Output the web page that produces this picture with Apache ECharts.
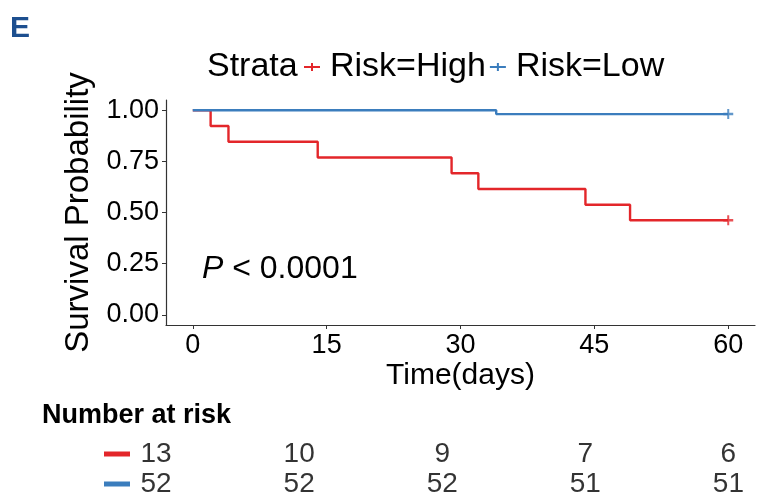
<!DOCTYPE html>
<html>
<head>
<meta charset="utf-8">
<script src="https://cdn.jsdelivr.net/npm/echarts@6/dist/echarts.min.js"></script>
<style>
  html, body { margin: 0; padding: 0; background: #fff; }
  #main { width: 757px; height: 499px; }
</style>
</head>
<body>
<div id="main"></div>
<script>
// survival curves (Kaplan-Meier steps), time in days
const highTimes = [0, 2, 4, 14, 29, 32, 44, 49, 60];
const highSurv = [1, 0.923, 0.846, 0.769, 0.692, 0.615, 0.538, 0.462, 0.462];
const lowTimes = [0, 34, 60];
const lowSurv = [1, 0.981, 0.981];
// censored at end of follow-up
const highCensor = [[60, 0.462]];
const lowCensor = [[60, 0.981]];
// number at risk table
const riskTimes = [0, 15, 30, 45, 60];
const riskHigh = [13, 10, 9, 7, 6];
const riskLow = [52, 52, 52, 51, 51];
const xTicks = [0, 15, 30, 45, 60];
const yTicks = [0, 0.25, 0.5, 0.75, 1];

const RED = '#e3262a';
const BLUE = '#3b7dbd';
const FONT = 'Liberation Sans, Arial, sans-serif';
const plus = 'path://M0,4h10v2h-10z M4,1h2v8h-2z';
const legendPlus = 'path://M0,4h16v2h-16z M7,1h2v8h-2z';

const zip = (a, b) => a.map((v, i) => [v, b[i]]);

const myChart = echarts.init(document.getElementById('main'));
const options = {
  animation: false,
  textStyle: { fontFamily: FONT },
  title: [
    { text: 'E', left: 5, top: 9, textStyle: { fontSize: 30, fontWeight: 'bold', color: '#1d4f8f', fontFamily: FONT } },
    { text: 'Strata', left: 202, top: 45, textStyle: { fontSize: 34, fontWeight: 'normal', color: '#000', fontFamily: FONT } },
    { text: 'Number at risk', left: 37, top: 397, textStyle: { fontSize: 27, fontWeight: 'bold', color: '#000', fontFamily: FONT } }
  ],
  legend: {
    left: 299, top: 45,
    itemWidth: 16, itemHeight: 10, itemGap: 4,
    data: [
      { name: 'Risk=High', icon: legendPlus },
      { name: 'Risk=Low', icon: legendPlus }
    ],
    textStyle: { fontSize: 34, color: '#000', fontFamily: FONT, padding: [0, 0, 0, 5] }
  },
  grid: [
    { left: 166, top: 100, width: 589, height: 225 },
    { left: 137, top: 439, width: 620, height: 64 }
  ],
  xAxis: [
    {
      gridIndex: 0, type: 'value', min: -3, max: 63,
      name: 'Time(days)', nameLocation: 'middle', nameGap: 36,
      nameTextStyle: { fontSize: 30, color: '#000' },
      axisLine: { onZero: false, lineStyle: { color: '#333', width: 1.2 } },
      axisTick: { show: true, length: 4, lineStyle: { color: '#333' }, customValues: xTicks },
      axisLabel: { fontSize: 27, color: '#000', margin: 7, customValues: xTicks },
      splitLine: { show: false }
    },
    {
      gridIndex: 1, type: 'value', min: -2, max: 63, show: false
    }
  ],
  yAxis: [
    {
      gridIndex: 0, type: 'value', min: -0.05, max: 1.05,
      name: 'Survival Probability', nameLocation: 'middle', nameGap: 66, nameRotate: 90,
      nameTextStyle: { fontSize: 33, color: '#000' },
      axisLine: { show: true, onZero: false, lineStyle: { color: '#333', width: 1.2 } },
      axisTick: { show: true, length: 4, lineStyle: { color: '#333' }, customValues: yTicks },
      axisLabel: { fontSize: 27, color: '#000', margin: 7, customValues: yTicks, formatter: v => v.toFixed(2) },
      splitLine: { show: false }
    },
    {
      gridIndex: 1, type: 'category', data: ['Risk=Low', 'Risk=High'],
      axisLine: { show: false }, axisTick: { show: false },
      axisLabel: {
        margin: 7,
        formatter: v => v === 'Risk=High' ? '{hi| }' : '{lo| }',
        rich: {
          hi: { width: 26, height: 5, backgroundColor: RED },
          lo: { width: 26, height: 5, backgroundColor: BLUE }
        }
      }
    }
  ],
  series: [
    {
      name: 'Risk=High', type: 'line', step: 'end', xAxisIndex: 0, yAxisIndex: 0,
      data: zip(highTimes, highSurv), showSymbol: false, color: RED,
      lineStyle: { width: 2.4, color: RED }
    },
    {
      name: 'Risk=Low', type: 'line', step: 'end', xAxisIndex: 0, yAxisIndex: 0,
      data: zip(lowTimes, lowSurv), showSymbol: false, color: BLUE,
      lineStyle: { width: 2.4, color: BLUE }
    },
    {
      name: 'censorHigh', type: 'scatter', data: highCensor, symbol: plus, symbolSize: 10,
      itemStyle: { color: RED }
    },
    {
      name: 'censorLow', type: 'scatter', data: lowCensor, symbol: plus, symbolSize: 10,
      itemStyle: { color: BLUE }
    },
    {
      name: 'riskHigh', type: 'scatter', xAxisIndex: 1, yAxisIndex: 1,
      data: riskTimes.map((t, i) => [t, 'Risk=High', riskHigh[i]]),
      symbolSize: 1, itemStyle: { color: 'transparent' },
      label: { show: true, position: 'inside', fontSize: 28, color: '#000', formatter: p => p.value[2] }
    },
    {
      name: 'riskLow', type: 'scatter', xAxisIndex: 1, yAxisIndex: 1,
      data: riskTimes.map((t, i) => [t, 'Risk=Low', riskLow[i]]),
      symbolSize: 1, itemStyle: { color: 'transparent' },
      label: { show: true, position: 'inside', fontSize: 28, color: '#000', formatter: p => p.value[2] }
    }
  ],
  graphic: [
    {
      type: 'text', left: 202, top: 253,
      style: {
        text: '{i|P} < 0.0001',
        fontSize: 32, fontFamily: FONT, fill: '#000',
        rich: { i: { fontStyle: 'italic', fontSize: 32, fontFamily: FONT } }
      }
    }
  ]
};
myChart.setOption(options);
window.addEventListener('resize', () => myChart.resize());
</script>
</body>
</html>
